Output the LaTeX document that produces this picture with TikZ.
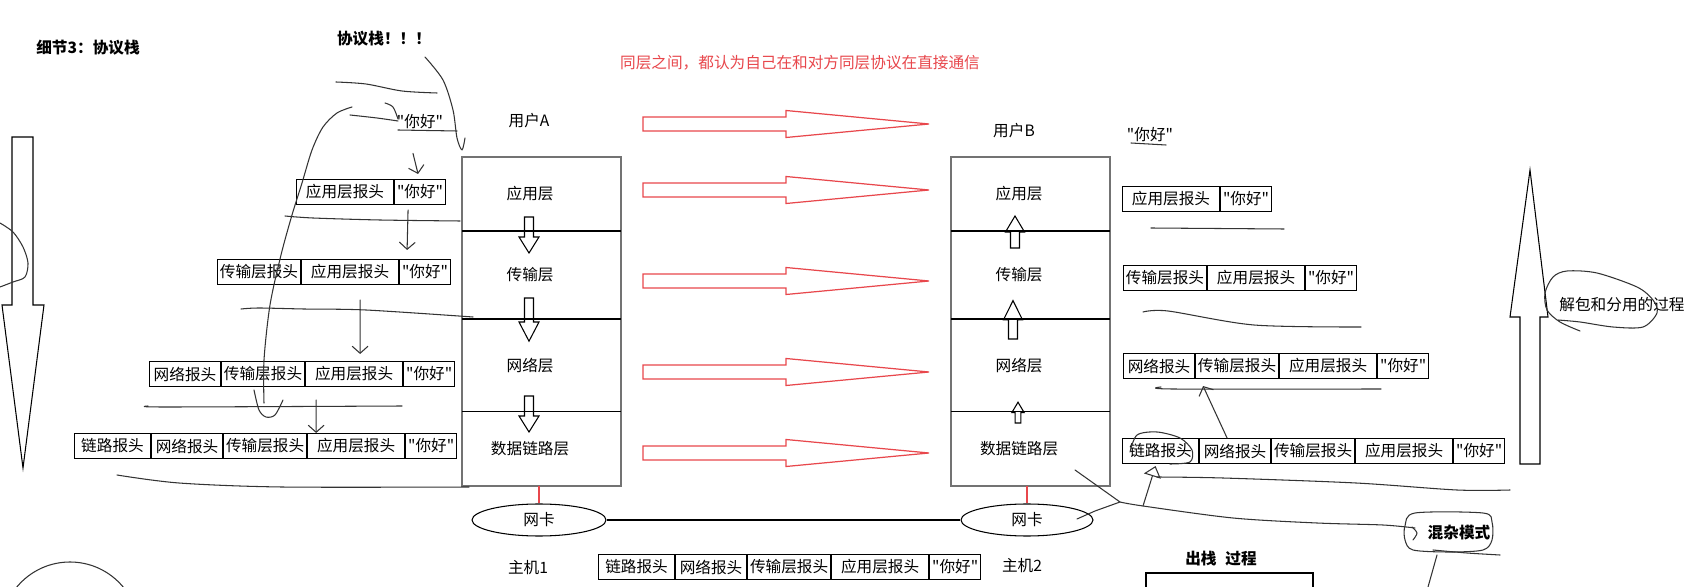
\documentclass[tikz,border=0pt]{standalone}
\usepackage{fontspec}
\setmainfont{Noto Sans CJK SC}[Ligatures=TeXOff]
\usetikzlibrary{arrows.meta,positioning,shapes.geometric}
\definecolor{NoteRed}{HTML}{E8474C}
\definecolor{PenGray}{HTML}{333333}

\begin{document}
\begin{tikzpicture}[x=0.02cm,y=-0.02cm,
    font=\fontsize{8.9pt}{10pt}\selectfont,
    pktcell/.style={
      draw,
      line width=0.6pt,
      minimum height=0.5cm,
      inner sep=0pt,
      anchor=west
    },
    lnkw/.style={pktcell,minimum width=1.52cm},
    netw/.style={pktcell,minimum width=1.42cm},
    trnw/.style={pktcell,minimum width=1.66cm},
    appw/.style={pktcell,minimum width=1.94cm},
    msgw/.style={pktcell,minimum width=1.02cm},
    layerbox/.style={
      minimum width=3.18cm,
      inner sep=0pt,
      outer sep=0pt,
      execute at begin node={\hspace*{-13pt}}
    },
    nicbox/.style={
      ellipse,
      draw,
      line width=0.6pt,
      minimum height=0.64cm,
      inner sep=0pt
    },
    pen/.style={
      line width=0.6pt,
      draw=PenGray,
      line cap=round,
      line join=round
    },
    handarrow/.style={
      pen,
      -{Straight Barb[length=4pt,width=9pt]}
    },
    redarrow/.pic={
      \draw[NoteRed,line width=0.7pt] (0,-7) -- (143,-7) -- (143,-13.5)
        -- (286,0) -- (143,13.5) -- (143,7) -- (0,7) -- cycle;
    },
    hollowdown/.pic={
      \draw[line width=0.6pt] (-4.5,0) -- (-4.5,20) -- (-10,20) -- (0,36)
        -- (10,20) -- (4.5,20) -- (4.5,0) -- cycle;
    },
    hollowup/.pic={
      \draw[line width=0.6pt] (-4.5,0) -- (-4.5,-16) -- (-9.5,-16) -- (0,-32)
        -- (9.5,-16) -- (4.5,-16) -- (4.5,0) -- cycle;
    }]

    \fill[white] (0,0) rectangle (1694,587);
    \useasboundingbox (0,0) rectangle (1694,587);
    \clip (0,0) rectangle (1694,587);

    % Titles
    \node[font=\fontsize{8.9pt}{10pt}\selectfont\bfseries] (title) at (88,48) {细节3：协议栈};
    \node[font=\fontsize{8.9pt}{10pt}\selectfont\bfseries] (stackttl) at (384,39) {协议栈！！！};
    \node[text=NoteRed] (note) at (800,63) {同层之间，都认为自己在和对方同层协议在直接通信};

    % Host A stack
    \node (userA) at (529,121) {用户A};
    \node[layerbox,minimum height=1.48cm] (appA) at (541.5,194) {应用层};
    \node[layerbox,minimum height=1.76cm,below=0pt of appA] (trnA) {传输层};
    \node[layerbox,minimum height=1.86cm,below=0pt of trnA] (netA) {网络层};
    \node[layerbox,minimum height=1.48cm,below=0pt of netA] (lnkA) {数据链路层};
    \draw[black!55,line width=0.7pt] (appA.north west) rectangle (lnkA.south east);
    \draw[line width=0.6pt] (appA.south west) -- (appA.south east);
    \draw[line width=0.6pt] (trnA.south west) -- (trnA.south east);
    \draw[line width=0.6pt] (netA.south west) -- (netA.south east);
    \pic at (529,217) {hollowdown};
    \pic[yscale=1.2] at (529,298) {hollowdown};
    \pic at (529,396) {hollowdown};

    % Host B stack
    \node (userB) at (1014,131) {用户B};
    \node[layerbox,minimum height=1.48cm] (appB) at (1030.5,194) {应用层};
    \node[layerbox,minimum height=1.76cm,below=0pt of appB] (trnB) {传输层};
    \node[layerbox,minimum height=1.86cm,below=0pt of trnB] (netB) {网络层};
    \node[layerbox,minimum height=1.48cm,below=0pt of netB] (lnkB) {数据链路层};
    \draw[black!55,line width=0.7pt] (appB.north west) rectangle (lnkB.south east);
    \draw[line width=0.6pt] (appB.south west) -- (appB.south east);
    \draw[line width=0.6pt] (trnB.south west) -- (trnB.south east);
    \draw[line width=0.6pt] (netB.south west) -- (netB.south east);
    \pic at (1015,248) {hollowup};
    \pic[yscale=1.2] at (1013,339) {hollowup};
    \pic[scale=0.65] at (1018,423) {hollowup};

    % Peer arrows
    \pic at (643,124) {redarrow};
    \pic at (643,190) {redarrow};
    \pic at (643,281) {redarrow};
    \pic at (643,372) {redarrow};
    \pic at (643,453) {redarrow};

    % NICs and wire
    \node[nicbox,minimum width=2.68cm] (nicA) at (539,520) {网卡};
    \node[nicbox,minimum width=2.64cm] (nicB) at (1027,520) {网卡};
    \draw[NoteRed,line width=0.6pt] (nicA.north |- lnkA.south) -- (nicA.north);
    \draw[NoteRed,line width=0.6pt] (nicB.north |- lnkB.south) -- (nicB.north);
    \draw[line width=0.6pt] (nicA.east) -- (nicB.west);
    \node (hostA) at (528,568) {主机1};
    \node (hostB) at (1022,566) {主机2};

    % Frame on the wire
    \node[lnkw] (Blnk) at (598,567) {链路报头};
    \node[netw,right=0pt of Blnk] (Bnet) {网络报头};
    \node[trnw,right=0pt of Bnet] (Btrn) {传输层报头};
    \node[appw,right=0pt of Btrn] (Bapp) {应用层报头};
    \node[msgw,right=0pt of Bapp] (Bmsg) {"你好"};

    % Encapsulation, left side
    \node (lq) at (420,122) {"你好"};
    \node[appw] (L1app) at (296,192) {应用层报头};
    \node[msgw,right=0pt of L1app] (L1msg) {"你好"};

    \node[trnw] (L2trn) at (217,272) {传输层报头};
    \node[appw,right=0pt of L2trn] (L2app) {应用层报头};
    \node[msgw,right=0pt of L2app] (L2msg) {"你好"};

    \node[netw] (L3net) at (149,374) {网络报头};
    \node[trnw,right=0pt of L3net] (L3trn) {传输层报头};
    \node[appw,right=0pt of L3trn] (L3app) {应用层报头};
    \node[msgw,right=0pt of L3app] (L3msg) {"你好"};

    \node[lnkw] (L4lnk) at (74,446) {链路报头};
    \node[netw,right=0pt of L4lnk] (L4net) {网络报头};
    \node[trnw,right=0pt of L4net] (L4trn) {传输层报头};
    \node[appw,right=0pt of L4trn] (L4app) {应用层报头};
    \node[msgw,right=0pt of L4app] (L4msg) {"你好"};

    \draw[handarrow] ([shift={(-7,18)}]lq.south) -- ([shift={(-2,-5)}]L1msg.north);
    \draw[handarrow] ([shift={(-12,5)}]L1msg.south) -- ([shift={(-18,-9)}]L2msg.north);
    \draw[handarrow] ([shift={(10,15)}]L2app.south) -- ([shift={(6,-7)}]L3app.north);
    \draw[handarrow] ([shift={(-38,13)}]L3app.south) -- ([shift={(-40,0)}]L4app.north);

    % Decapsulation, right side
    \node (rq) at (1150,135) {"你好"};
    \node[appw] (R1app) at (1122,199) {应用层报头};
    \node[msgw,right=0pt of R1app] (R1msg) {"你好"};

    \node[trnw] (R2trn) at (1123,278) {传输层报头};
    \node[appw,right=0pt of R2trn] (R2app) {应用层报头};
    \node[msgw,right=0pt of R2app] (R2msg) {"你好"};

    \node[netw] (R3net) at (1123,366) {网络报头};
    \node[trnw,right=0pt of R3net] (R3trn) {传输层报头};
    \node[appw,right=0pt of R3trn] (R3app) {应用层报头};
    \node[msgw,right=0pt of R3app] (R3msg) {"你好"};

    \node[lnkw] (R4lnk) at (1122,451) {链路报头};
    \node[netw,right=0pt of R4lnk] (R4net) {网络报头};
    \node[trnw,right=0pt of R4net] (R4trn) {传输层报头};
    \node[appw,right=0pt of R4trn] (R4app) {应用层报头};
    \node[msgw,right=0pt of R4app] (R4msg) {"你好"};

    \draw[handarrow] ([shift={(-8,0)}]R4net.north) -- ([shift={(-34,7)}]R3trn.south);
    \coordinate (tap) at (1143,506);
    \draw[pen,-{Triangle[open,length=6pt,width=10pt]}] (tap) -- ([shift={(-5,2)}]R4lnk.south);

    % Big process arrows
    \draw[line width=0.6pt] (12,137) -- (33,137) -- (33,305) -- (44,305) -- (23,468)
      -- (2,305) -- (12,305) -- cycle;
    \draw[line width=0.6pt] (1520,464) -- (1540,464) -- (1540,317) -- (1548,317) -- (1530,170)
      -- (1510,317) -- (1520,317) -- cycle;
    \node (unpack) at (1622,305) {解包和分用的过程};
    \node[font=\fontsize{8.9pt}{10pt}\selectfont\bfseries] (promisc) at (1459,533) {混杂模式};
    \node[font=\fontsize{8.9pt}{10pt}\selectfont\bfseries] (outstk) at (1221,559) {出栈\hspace{5pt}过程};
    \draw[line width=0.6pt] (1146,590) -- (1146,573) -- (1313,573) -- (1313,590);

    % Pen strokes, left
    \draw[pen] plot[smooth] coordinates {(336,82) (366,84) (402,91) (437,93)};
    \draw[pen] plot[smooth] coordinates {(425,57) (443,80) (453,110) (457,138) (462,150) (465,138)};
    \draw[pen] plot[smooth] coordinates {(350,115) (377,118) (398,121)};
    \draw[pen] plot[smooth] coordinates {(385,103) (393,107) (398,119)};
    \draw[pen] (398,130) -- (457,131);
    \draw[pen] plot[smooth] coordinates {(352,107) (337,113) (323,127) (312,150) (302,183)
      (292,215) (281,255) (270,305) (264,360) (264,403)};
    \draw[pen] plot[smooth] coordinates {(254,390) (259,410) (266,417) (275,415) (283,400)};
    \draw[pen] plot[smooth] coordinates {(285,216) (313,218) (380,220) (460,221)};
    \draw[pen] plot[smooth] coordinates {(241,309) (259,308) (304,309) (366,310) (473,317)};
    \draw[pen] plot[smooth] coordinates {(148,406) (167,407) (402,406)};
    \draw[pen] plot[smooth] coordinates {(117,475) (179,483) (282,487) (469,487)};
    \draw[pen] plot[smooth] coordinates {(0,223) (13,232) (23,247) (28,263) (25,277) (13,282) (0,287)};
    \draw[pen] (70,631) circle[radius=69];

    % Pen strokes, right
    \draw[pen] (1131,143) -- (1166,145);
    \draw[pen] (1151,228) -- (1284,229);
    \draw[pen] plot[smooth] coordinates {(1143,312) (1168,311) (1254,325) (1361,327)};
    \draw[pen] plot[smooth] coordinates {(1161,387) (1173,389) (1381,389)};
    \draw[pen] plot[smooth] coordinates {(1130,452) (1137,435) (1157,432) (1180,438)
      (1192,450) (1190,462) (1170,464)};
    \draw[pen] plot[smooth] coordinates {(1157,477) (1223,478) (1356,483) (1457,490) (1510,490)};
    \draw[pen] (1075,470) -- (1120,502) -- (1095,511) -- (1077,519);
    \draw[pen] plot[smooth] coordinates {(1120,502) (1143,506) (1233,518) (1317,523)
      (1383,525) (1415,528)};
    \draw[pen] plot[smooth cycle] coordinates {(1415,513) (1483,513) (1492,522) (1492,540)
      (1483,550) (1450,552) (1413,550) (1405,540) (1405,526)};
    \draw[pen] plot[smooth] coordinates {(1412,527) (1417,533) (1413,540)};
    \draw[pen] plot[smooth] coordinates {(1433,550) (1467,553) (1500,555)};
    \draw[pen] (1437,555) -- (1428,587);
    \draw[pen] plot[smooth] coordinates {(1580,331) (1560,322) (1547,310) (1545,293)
      (1553,277) (1567,271) (1597,273) (1637,287) (1653,300) (1657,313) (1643,327)
      (1613,327) (1580,322) (1558,320)};
  \end{tikzpicture}
\end{document}
